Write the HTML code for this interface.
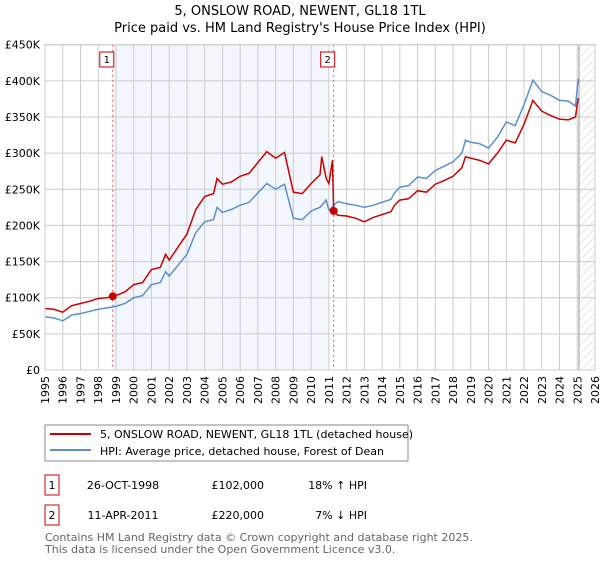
<!DOCTYPE html>
<html><head><meta charset="utf-8"><style>
body{margin:0;background:#fff;font-family:"Liberation Sans","DejaVu Sans",sans-serif}
svg text{font-family:"DejaVu Sans","Liberation Sans",sans-serif}
</style></head><body>
<svg id="c" width="600" height="560" xmlns="http://www.w3.org/2000/svg">
<defs><pattern id="hatch" width="6" height="6" patternUnits="userSpaceOnUse" patternTransform="rotate(45)"><line x1="0" y1="0" x2="0" y2="6" stroke="#ccc" stroke-width="1"/></pattern></defs>
<text x="300" y="15" text-anchor="middle" font-size="13">5, ONSLOW ROAD, NEWENT, GL18 1TL</text>
<text x="300" y="32" text-anchor="middle" font-size="13">Price paid vs. HM Land Registry's House Price Index (HPI)</text>
<g id="plot"></g>
<rect x="45" y="425" width="363" height="36" fill="#fff" stroke="#888"/>
<line x1="50" y1="434" x2="91" y2="434" stroke="#cc0000" stroke-width="2"/>
<text x="100" y="438" font-size="11">5, ONSLOW ROAD, NEWENT, GL18 1TL (detached house)</text>
<line x1="50" y1="450" x2="91" y2="450" stroke="#5b8fd0" stroke-width="2"/>
<text x="100" y="455" font-size="11">HPI: Average price, detached house, Forest of Dean</text>
<rect x="45" y="475" width="14" height="20" fill="#fff" stroke="#cc0000"/>
<text x="52" y="489" text-anchor="middle" font-size="11">1</text>
<text x="123" y="489" text-anchor="middle" font-size="11">26-OCT-1998</text>
<text x="264" y="489" text-anchor="end" font-size="11">£102,000</text>
<text x="367" y="489" text-anchor="end" font-size="11">18% ↑ HPI</text>
<rect x="45" y="505" width="14" height="20" fill="#fff" stroke="#cc0000"/>
<text x="52" y="519" text-anchor="middle" font-size="11">2</text>
<text x="123" y="519" text-anchor="middle" font-size="11">11-APR-2011</text>
<text x="264" y="519" text-anchor="end" font-size="11">£220,000</text>
<text x="367" y="519" text-anchor="end" font-size="11">7% ↓ HPI</text>
<text x="45" y="541" font-size="11" fill="#666">Contains HM Land Registry data © Crown copyright and database right 2025.</text>
<text x="45" y="553" font-size="11" fill="#666">This data is licensed under the Open Government Licence v3.0.</text>
</svg>
<script>
const yearTicks=[1995,1996,1997,1998,1999,2000,2001,2002,2003,2004,2005,2006,2007,2008,2009,2010,2011,2012,2013,2014,2015,2016,2017,2018,2019,2020,2021,2022,2023,2024,2025,2026];
const valueTicks=[0,50000,100000,150000,200000,250000,300000,350000,400000,450000];
const valueLabels=["£0","£50K","£100K","£150K","£200K","£250K","£300K","£350K","£400K","£450K"];
const hpiDates=[1995,1995.5,1996,1996.5,1997,1997.5,1998,1998.5,1999,1999.5,2000,2000.5,2001,2001.5,2001.8,2002,2002.5,2003,2003.5,2004,2004.5,2004.7,2005,2005.5,2006,2006.5,2007,2007.5,2008,2008.5,2009,2009.5,2010,2010.5,2010.85,2011,2011.5,2012,2012.5,2013,2013.5,2014,2014.5,2014.7,2015,2015.5,2016,2016.5,2017,2017.5,2018,2018.5,2018.7,2019,2019.5,2020,2020.5,2021,2021.5,2022,2022.5,2023,2023.5,2024,2024.5,2024.9,2025.05];
const hpiValues=[73700,72000,68000,76000,78000,81000,84000,86000,88000,92000,100000,103000,118000,121000,136000,130000,145000,160000,190000,205000,208000,225000,218000,222000,228000,232000,245000,258000,250000,257000,210000,208000,220000,225000,235000,221000,233000,230000,228000,225000,228000,232000,236000,245000,253000,255000,267000,265000,276000,282000,288000,300000,318000,315000,313000,307000,322000,343000,338000,367000,401000,385000,380000,373000,372000,365000,403000];
const propDates=[1995,1995.5,1996,1996.5,1997,1997.5,1998,1998.5,1998.82,1999,1999.5,2000,2000.5,2001,2001.5,2001.8,2002,2002.5,2003,2003.5,2004,2004.5,2004.7,2005,2005.5,2006,2006.5,2007,2007.5,2008,2008.5,2009,2009.5,2010,2010.5,2010.6,2010.85,2011,2011.2,2011.27,2011.5,2012,2012.5,2013,2013.5,2014,2014.5,2014.7,2015,2015.5,2016,2016.5,2017,2017.5,2018,2018.5,2018.7,2019,2019.5,2020,2020.5,2021,2021.5,2022,2022.5,2023,2023.5,2024,2024.5,2024.9,2025.05];
const propValues=[85000,84000,80000,89000,92000,95000,99000,100000,102000,103000,108000,118000,121000,139000,142000,160000,152000,170000,188000,222000,240000,244000,265000,257000,260000,268000,272000,287000,302000,293000,301000,246000,244000,258000,270000,295000,265000,258000,290000,220000,214000,213000,210000,205000,211000,215000,219000,228000,235000,237000,248000,246000,257000,262000,268000,280000,295000,293000,290000,285000,300000,318000,314000,340000,373000,358000,352000,347000,346000,350000,376000];
const sales=[[1998.82,102000,"1"],[2011.27,220000,"2"]];
const X0=45,X1=595,Y0=370,Y1=44.7;
const xs=t=>X0+(t-1995)/(2026-1995)*(X1-X0);
const ys=v=>Y0-v/450000*(Y0-Y1);
const NS="http://www.w3.org/2000/svg";
const g=document.getElementById('plot');
function mk(tag,attrs){const e=document.createElementNS(NS,tag);for(const k in attrs)e.setAttribute(k,attrs[k]);g.appendChild(e);return e;}
let e=mk('rect',{x:xs(1998.82),y:Y1,width:xs(2011.0)-xs(1998.82),height:Y0-Y1,fill:'#eef3fc',opacity:0.7});


e=mk('rect',{x:xs(2025.1),y:Y1,width:X1-xs(2025.1),height:Y0-Y1,fill:'url(#hatch)'});


yearTicks.forEach(t=>{
 const l=mk('line',{x1:xs(t),x2:xs(t),y1:Y1,y2:Y0,stroke:'#ccc'});
 
 
 const tx=mk('text',{x:0,y:0,'font-size':11,'text-anchor':'end',transform:`translate(${xs(t)+4},376) rotate(-90)`});
 tx.textContent=t;
 
 
});
valueTicks.forEach((v,i)=>{
 const l=mk('line',{x1:X0,x2:X1,y1:ys(v),y2:ys(v),stroke:'#ccc'});
 
 
 const tx=mk('text',{x:40,y:ys(v)+4,'font-size':11,'text-anchor':'end'});
 tx.textContent=valueLabels[i];
 
 
});
e=mk('line',{x1:xs(2025.1),x2:xs(2025.1),y1:Y1,y2:Y0,stroke:'#999'});


sales.forEach(s=>{
 const l=mk('line',{x1:xs(s[0]),x2:xs(s[0]),y1:Y1,y2:Y0,stroke:'#e05050','stroke-dasharray':'2,3'});
 
 
 const r=mk('rect',{x:xs(s[0])-13,y:52,width:14,height:15,fill:'#fff',stroke:'#cc0000'});
 
 
 const t=mk('text',{x:xs(s[0])-6,y:63,'font-size':10,'text-anchor':'middle'});
 t.textContent=s[2];
 
 
});
e=mk('polyline',{points:hpiDates.map((d,i)=>xs(d)+','+ys(hpiValues[i])).join(' '),fill:'none',stroke:'#5b8fd0','stroke-width':1.5});


e=mk('polyline',{points:propDates.map((d,i)=>xs(d)+','+ys(propValues[i])).join(' '),fill:'none',stroke:'#cc0000','stroke-width':1.5});


sales.forEach(s=>{
 const c=mk('circle',{cx:xs(s[0]),cy:ys(s[1]),r:4,fill:'#cc0000'});
 
 
});
e=mk('rect',{x:X0,y:Y1,width:X1-X0,height:Y0-Y1,fill:'none',stroke:'#ccc'});


</script>
</body></html>
